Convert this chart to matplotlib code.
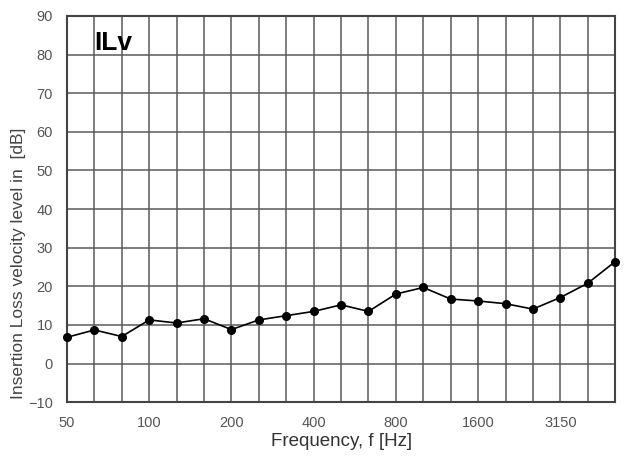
import numpy as np
import matplotlib.pyplot as plt

plt.rcParams['font.family'] = ['Liberation Sans', 'DejaVu Sans']

# 1/3 octave band centre frequencies
bands = ["50", "63", "80", "100", "125", "160", "200", "250", "315", "400",
         "500", "630", "800", "1000", "1250", "1600", "2000", "2500",
         "3150", "4000", "5000"]
ilv = [6.8, 8.7, 7.0, 11.3, 10.5, 11.6, 8.8, 11.3, 12.4, 13.5,
       15.2, 13.5, 18.0, 19.7, 16.7, 16.2, 15.5, 14.1, 17.1, 20.8, 26.4]
label_bands = ["50", "100", "200", "400", "800", "1600", "3150"]
y_ticks = [-10, 0, 10, 20, 30, 40, 50, 60, 70, 80, 90]

x = np.arange(len(bands))

fig = plt.figure(figsize=(6.29, 4.57), dpi=100)
ax = fig.add_axes([0.1065, 0.12, 0.8715, 0.845])

ax.plot(x, ilv, color="black", marker="o", markersize=5.5, linewidth=1.2,
        clip_on=False, zorder=3)

ax.set_xlim(0, len(bands) - 1)
ax.set_ylim(-10, 90)
ax.set_xticks(x)
ax.set_xticklabels([b if b in label_bands else "" for b in bands])
ax.set_yticks(y_ticks)
ax.grid(True, color="#5a5a5a", linewidth=1.1)
ax.set_axisbelow(True)
ax.tick_params(axis="x", length=0, labelsize=10.5, labelcolor="#555555", pad=10)
ax.tick_params(axis="y", length=0, labelsize=10.5, labelcolor="#555555", pad=10)
for s in ax.spines.values():
    s.set_color("#444444")
    s.set_linewidth(1.5)

ax.set_xlabel("Frequency, f [Hz]", fontsize=13.5, color="#333333", labelpad=2)
ax.set_ylabel("Insertion Loss velocity level in  [dB]", fontsize=12.5,
              color="#444444")
ax.yaxis.set_label_coords(-0.075, 0.36)
ax.text(0.05, 0.96, "ILv", transform=ax.transAxes, fontsize=19,
        fontweight="bold", va="top", ha="left")

fig.savefig("out.png", dpi=100)
